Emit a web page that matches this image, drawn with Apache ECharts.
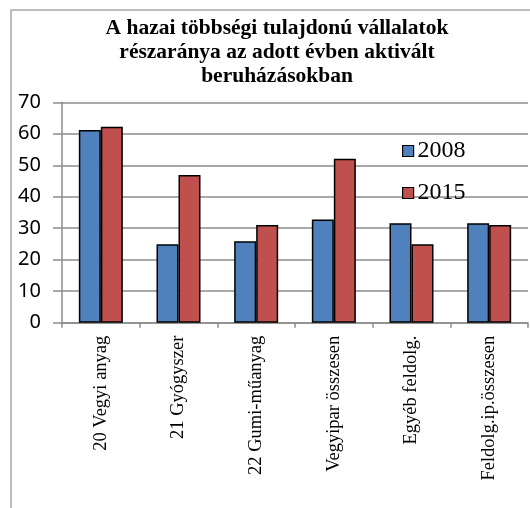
<!DOCTYPE html>
<html>
<head>
<meta charset="utf-8">
<script src="https://cdn.jsdelivr.net/npm/echarts@6/dist/echarts.min.js"></script>
<style>
  html, body { margin: 0; padding: 0; background: #fff; }
  #chart { width: 530px; height: 508px; }
</style>
</head>
<body>
<div id="chart"></div>
<script>
// Share of majority domestic-owned firms in investments activated in the given year (%)
const categories = [
  '20 Vegyi anyag',
  '21 Gyógyszer',
  '22 Gumi-műanyag',
  'Vegyipar összesen',
  'Egyéb feldolg.',
  'Feldolg.ip.összesen'
];
const values2008 = [61.2, 24.9, 25.9, 32.8, 31.6, 31.6];
const values2015 = [62.2, 46.9, 31.0, 52.1, 24.9, 31.0];
const seriesNames = ['2008', '2015'];
const yTicks = [0, 10, 20, 30, 40, 50, 60, 70];

const titleText = 'A hazai többségi tulajdonú vállalatok\nrészaránya az adott évben aktivált\nberuházásokban';

const chart = echarts.init(document.getElementById('chart'), null, { renderer: 'canvas' });

const gridColor = '#8c8c8c';

chart.setOption({
  animation: false,
  backgroundColor: '#ffffff',
  graphic: [{
    type: 'rect',
    shape: { x: 11, y: 10, width: 540, height: 520 },
    style: { fill: 'none', stroke: '#a8a8a8', lineWidth: 1.5 },
    silent: true,
    z: -1
  }],
  title: {
    text: titleText,
    left: 272,
    textAlign: 'center',
    top: 11,
    textStyle: {
      fontFamily: '"Liberation Serif", "DejaVu Serif", serif',
      fontWeight: 'bold',
      fontSize: 21.5,
      lineHeight: 24,
      color: '#000'
    }
  },
  legend: {
    orient: 'vertical',
    left: 402,
    top: 139,
    padding: 0,
    itemWidth: 11,
    itemHeight: 11,
    itemGap: 18,
    icon: 'rect',
    data: seriesNames,
    textStyle: {
      fontFamily: '"Liberation Serif", serif',
      fontSize: 24,
      lineHeight: 22,
      color: '#000',
      padding: [0, 0, 0, -1]
    },
    itemStyle: { borderColor: '#000', borderWidth: 1.2 }
  },
  grid: {
    left: 62,
    top: 102.3,
    width: 466,
    height: 220.4,
    containLabel: false
  },
  xAxis: {
    type: 'category',
    data: categories,
    axisLine: { show: true, lineStyle: { color: gridColor, width: 1.5 } },
    axisTick: { show: true, length: 5, lineStyle: { color: gridColor, width: 1.5 } },
    axisLabel: {
      rotate: 90,
      margin: 13,
      interval: 0,
      fontFamily: '"Liberation Serif", serif',
      fontSize: 18.5,
      color: '#000'
    },
    splitLine: { show: false }
  },
  yAxis: {
    type: 'value',
    min: yTicks[0],
    max: yTicks[yTicks.length - 1],
    interval: 10,
    axisLine: { show: true, lineStyle: { color: gridColor, width: 1.5 } },
    axisTick: { show: true, length: 9, lineStyle: { color: gridColor, width: 1.5 } },
    axisLabel: {
      margin: 21,
      fontFamily: '"Noto Sans", "Open Sans", sans-serif',
      fontSize: 20,
      color: '#000'
    },
    splitLine: { show: true, lineStyle: { color: gridColor, width: 1.5 } }
  },
  series: [
    {
      name: seriesNames[0],
      type: 'bar',
      data: values2008,
      barWidth: 22,
      barGap: '0%',
      itemStyle: { color: '#4F81BD', borderColor: '#000', borderWidth: 1.5 }
    },
    {
      name: seriesNames[1],
      type: 'bar',
      data: values2015,
      barWidth: 22,
      barGap: '0%',
      itemStyle: { color: '#C0504D', borderColor: '#000', borderWidth: 1.5 }
    }
  ]
});
</script>
</body>
</html>
